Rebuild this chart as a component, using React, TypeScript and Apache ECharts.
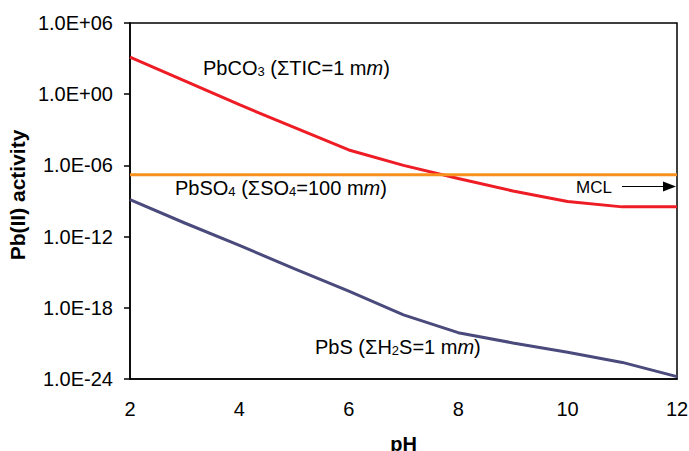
import React, { useEffect, useRef } from "react";
import * as echarts from "echarts";

const pH = [2, 3, 4, 5, 6, 7, 8, 9, 10, 11, 12];
const pbco3 = [1.3e3, 1.3e1, 1.3e-1, 1.6e-3, 2.0e-5, 1.0e-6, 8e-8, 7e-9, 9e-10, 3.2e-10, 3.2e-10];
const pbs = [1.3e-9, 1.4e-11, 1.8e-13, 2e-15, 2.5e-17, 2.5e-19, 8e-21, 1.1e-21, 1.8e-22, 2.5e-23, 1.6e-24];
const pbso4X = [2, 12];
const pbso4 = [1.6e-7, 1.6e-7];
// y axis: powers of ten (exponents) shown as 1.0E±NN
const yExpMin = -24;
const yExpMax = 6;
const yExpStep = 6;

const FONT = "Liberation Sans, Arial, sans-serif";

function fmt(e: number): string {
  const r = Math.round(e);
  const sign = r < 0 ? "-" : "+";
  return "1.0E" + sign + String(Math.abs(r)).padStart(2, "0");
}

const richStyles = {
  n: { fontSize: 20, fontFamily: FONT, color: "#000", lineHeight: 24, verticalAlign: "bottom" },
  s: { fontSize: 13, fontFamily: FONT, color: "#000", lineHeight: 10, verticalAlign: "bottom" },
  i: { fontSize: 20, fontFamily: FONT, color: "#000", fontStyle: "italic", lineHeight: 24, verticalAlign: "bottom" },
};

export default function App() {
  const ref = useRef<HTMLDivElement>(null);
  useEffect(() => {
    if (!ref.current) return;
    const chart = echarts.init(ref.current, null, { renderer: "svg" });
    chart.setOption({
      animation: false,
      backgroundColor: "#fff",
      grid: {
        left: 130, right: 12, top: 23, bottom: 72,
        outerBoundsMode: "none",
        containLabel: false,
        show: true, borderColor: "#000", borderWidth: 1.5, backgroundColor: "transparent",
      },
      xAxis: {
        type: "value", min: 2, max: 12, interval: 2,
        axisLine: { onZero: false, lineStyle: { color: "#000", width: 1.5 } },
        axisTick: { show: false },
        splitLine: { show: false },
        axisLabel: { color: "#000", fontSize: 20, fontFamily: FONT, margin: 20 },
        name: "pH", nameLocation: "middle", nameGap: 55,
        nameTextStyle: { color: "#000", fontSize: 20, fontWeight: "bold", fontFamily: FONT },
      },
      yAxis: {
        type: "value", min: yExpMin, max: yExpMax, interval: yExpStep,
        axisLine: { show: true, onZero: false, lineStyle: { color: "#000", width: 1.5 } },
        axisTick: { show: true, length: 6, inside: false, lineStyle: { color: "#000", width: 1.5 } },
        splitLine: { show: false },
        axisLabel: { color: "#000", fontSize: 20, fontFamily: FONT, margin: 17, formatter: fmt },
      },
      series: [
        {
          type: "line", name: "PbCO3", showSymbol: false, symbol: "none",
          data: pH.map((x, i) => [x, Math.log10(pbco3[i])]),
          lineStyle: { color: "#EE1C25", width: 3 }, z: 2,
        },
        {
          type: "line", name: "PbS", showSymbol: false, symbol: "none",
          data: pH.map((x, i) => [x, Math.log10(pbs[i])]),
          lineStyle: { color: "#4B4A7C", width: 3 }, z: 2,
        },
        {
          type: "line", name: "PbSO4", showSymbol: false, symbol: "none",
          data: pbso4X.map((x, i) => [x, Math.log10(pbso4[i])]),
          lineStyle: { color: "#F7901E", width: 3 }, z: 3,
        },
      ],
      graphic: [
        {
          type: "text", x: 17, y: 195, rotation: Math.PI / 2,
          style: {
            text: "Pb(II) activity", fontSize: 21, fontWeight: "bold", fontFamily: FONT,
            fill: "#000", align: "center", verticalAlign: "middle",
          },
        },
        {
          type: "text", left: 203, top: 58,
          style: {
            text: "{n|PbCO}{s|3}{n| (ΣTIC=1 m}{i|m}{n|)}",
            rich: richStyles,
          },
        },
        {
          type: "text", left: 175, top: 178,
          style: {
            text: "{n|PbSO}{s|4}{n| (ΣSO}{s|4}{n|=100 m}{i|m}{n|)}",
            rich: richStyles,
          },
        },
        {
          type: "text", left: 315, top: 337,
          style: {
            text: "{n|PbS (ΣH}{s|2}{n|S=1 m}{i|m}{n|)}",
            rich: richStyles,
          },
        },
        {
          type: "text", x: 576, y: 187,
          style: { text: "MCL", fontSize: 17, fontFamily: FONT, fill: "#000", verticalAlign: "middle" },
        },
        {
          type: "line",
          shape: { x1: 622, y1: 186.5, x2: 668, y2: 186.5 },
          style: { stroke: "#000", lineWidth: 1 },
        },
        {
          type: "polygon",
          shape: { points: [[676, 186.5], [663, 181.5], [663, 191.5]] },
          style: { fill: "#000" },
        },
      ],
    });
    return () => chart.dispose();
  }, []);
  return (
    <div
      ref={ref}
      style={{ position: "absolute", left: 0, top: 0, width: 689, height: 451 }}
    />
  );
}
